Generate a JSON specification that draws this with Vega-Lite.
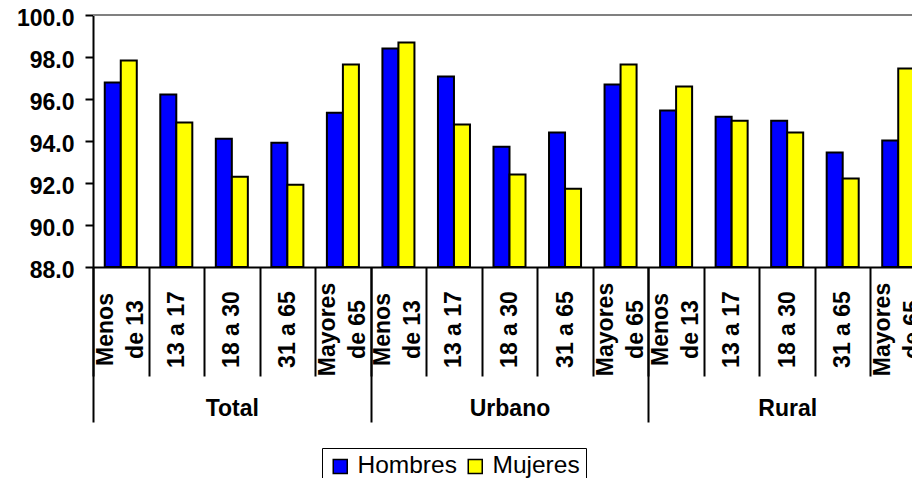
{
  "$schema": "https://vega.github.io/schema/vega-lite/v6.json",
  "width": 819,
  "height": 252,
  "autosize": {"type": "none"},
  "padding": {"left": 93, "top": 15, "right": 0, "bottom": 211},
  "background": "white",
  "config": {
    "font": "Liberation Sans",
    "view": {"stroke": null},
    "axis": {
      "domainColor": "black",
      "domainWidth": 2,
      "tickColor": "black",
      "tickWidth": 2,
      "labelColor": "black",
      "labelFont": "Liberation Sans",
      "labelFontWeight": "bold",
      "labelFontSize": 23,
      "grid": false,
      "title": null,
      "labelOverlap": false
    }
  },
  "data": {
    "values": [
      {"region": "Total", "clave": "Total|Menos de 13", "sexo": "Hombres", "valor": 96.78},
      {"region": "Total", "clave": "Total|Menos de 13", "sexo": "Mujeres", "valor": 97.83},
      {"region": "Total", "clave": "Total|13 a 17", "sexo": "Hombres", "valor": 96.21},
      {"region": "Total", "clave": "Total|13 a 17", "sexo": "Mujeres", "valor": 94.88},
      {"region": "Total", "clave": "Total|18 a 30", "sexo": "Hombres", "valor": 94.11},
      {"region": "Total", "clave": "Total|18 a 30", "sexo": "Mujeres", "valor": 92.3},
      {"region": "Total", "clave": "Total|31 a 65", "sexo": "Hombres", "valor": 93.92},
      {"region": "Total", "clave": "Total|31 a 65", "sexo": "Mujeres", "valor": 91.92},
      {"region": "Total", "clave": "Total|Mayores de 65", "sexo": "Hombres", "valor": 95.35},
      {"region": "Total", "clave": "Total|Mayores de 65", "sexo": "Mujeres", "valor": 97.64},
      {"region": "Urbano", "clave": "Urbano|Menos de 13", "sexo": "Hombres", "valor": 98.41},
      {"region": "Urbano", "clave": "Urbano|Menos de 13", "sexo": "Mujeres", "valor": 98.69},
      {"region": "Urbano", "clave": "Urbano|13 a 17", "sexo": "Hombres", "valor": 97.07},
      {"region": "Urbano", "clave": "Urbano|13 a 17", "sexo": "Mujeres", "valor": 94.78},
      {"region": "Urbano", "clave": "Urbano|18 a 30", "sexo": "Hombres", "valor": 93.73},
      {"region": "Urbano", "clave": "Urbano|18 a 30", "sexo": "Mujeres", "valor": 92.4},
      {"region": "Urbano", "clave": "Urbano|31 a 65", "sexo": "Hombres", "valor": 94.4},
      {"region": "Urbano", "clave": "Urbano|31 a 65", "sexo": "Mujeres", "valor": 91.73},
      {"region": "Urbano", "clave": "Urbano|Mayores de 65", "sexo": "Hombres", "valor": 96.69},
      {"region": "Urbano", "clave": "Urbano|Mayores de 65", "sexo": "Mujeres", "valor": 97.64},
      {"region": "Rural", "clave": "Rural|Menos de 13", "sexo": "Hombres", "valor": 95.45},
      {"region": "Rural", "clave": "Rural|Menos de 13", "sexo": "Mujeres", "valor": 96.59},
      {"region": "Rural", "clave": "Rural|13 a 17", "sexo": "Hombres", "valor": 95.16},
      {"region": "Rural", "clave": "Rural|13 a 17", "sexo": "Mujeres", "valor": 94.97},
      {"region": "Rural", "clave": "Rural|18 a 30", "sexo": "Hombres", "valor": 94.97},
      {"region": "Rural", "clave": "Rural|18 a 30", "sexo": "Mujeres", "valor": 94.4},
      {"region": "Rural", "clave": "Rural|31 a 65", "sexo": "Hombres", "valor": 93.45},
      {"region": "Rural", "clave": "Rural|31 a 65", "sexo": "Mujeres", "valor": 92.21},
      {"region": "Rural", "clave": "Rural|Mayores de 65", "sexo": "Hombres", "valor": 94.02},
      {"region": "Rural", "clave": "Rural|Mayores de 65", "sexo": "Mujeres", "valor": 97.45}
    ]
  },
  "layer": [
    {
      "mark": {"type": "bar", "stroke": "black", "strokeWidth": 2},
      "encoding": {
        "x": {
          "field": "clave",
          "type": "nominal",
          "sort": null,
          "scale": {"range": [0, 833], "paddingInner": 0, "paddingOuter": 0},
          "axis": {
            "orient": "bottom",
            "tickBand": "extent",
            "tickSize": 109,
            "labelAngle": 270,
            "labelAlign": "center",
            "labelBaseline": "middle",
            "labelPadding": -47,
            "labelExpr": "(indexof(datum.label,'Menos')>=0 || indexof(datum.label,'Mayores')>=0) ? '' : split(datum.label,'|')[1]"
          }
        },
        "xOffset": {
          "field": "sexo",
          "type": "nominal",
          "sort": ["Hombres", "Mujeres"],
          "scale": {"paddingInner": 0, "paddingOuter": 0.734}
        },
        "y": {
          "field": "valor",
          "type": "quantitative",
          "scale": {"domain": [88, 100], "zero": false, "nice": false},
          "axis": {
            "values": [88, 90, 92, 94, 96, 98, 100],
            "format": ".1f",
            "tickSize": 8,
            "labelPadding": 11,
            "labelOffset": 3
          }
        },
        "y2": {"datum": 88},
        "color": {
          "field": "sexo",
          "type": "nominal",
          "scale": {"domain": ["Hombres", "Mujeres"], "range": ["#0000FF", "#FFFF00"]},
          "legend": {
            "title": null,
            "orient": "none",
            "legendX": 229,
            "legendY": 433,
            "direction": "horizontal",
            "symbolType": "square",
            "symbolSize": 196,
            "symbolStrokeColor": "black",
            "symbolStrokeWidth": 1.5,
            "symbolOpacity": 1,
            "labelFont": "Liberation Sans",
            "labelFontSize": 24.5,
            "labelFontWeight": "normal",
            "labelColor": "black",
            "strokeColor": "black",
            "padding": 6,
            "labelOffset": 5,
            "columnPadding": 6
          }
        }
      }
    },
    {
      "mark": {"type": "rule", "color": "#808080", "strokeWidth": 2},
      "encoding": {"y": {"datum": 100}}
    },
    {
      "mark": {"type": "tick", "opacity": 0},
      "encoding": {
        "x": {
          "field": "clave",
          "type": "nominal",
          "sort": null,
          "scale": {"range": [0, 833], "paddingInner": 0, "paddingOuter": 0},
          "axis": {
            "orient": "bottom",
            "domain": false,
            "tickOpacity": 0,
            "tickSize": 109,
            "labelAngle": 270,
            "labelAlign": "center",
            "labelBaseline": "middle",
            "labelPadding": -47,
            "labelLineHeight": 30,
            "labelOffset": -15,
            "labelExpr": "indexof(datum.label,'Menos')>=0 ? ['Menos','de 13'] : indexof(datum.label,'Mayores')>=0 ? ['Mayores','de 65'] : ''"
          }
        }
      }
    },
    {
      "mark": {"type": "tick", "opacity": 0},
      "encoding": {
        "x": {
          "field": "region",
          "type": "nominal",
          "sort": null,
          "scale": {"range": [0, 833], "paddingInner": 0, "paddingOuter": 0},
          "axis": {
            "orient": "bottom",
            "tickBand": "extent",
            "tickSize": 155,
            "labelAngle": 0,
            "labelAlign": "center",
            "labelBaseline": "top",
            "labelPadding": -25,
            "domain": false
          }
        }
      }
    }
  ],
  "resolve": {"scale": {"x": "independent"}, "axis": {"x": "independent"}}
}
